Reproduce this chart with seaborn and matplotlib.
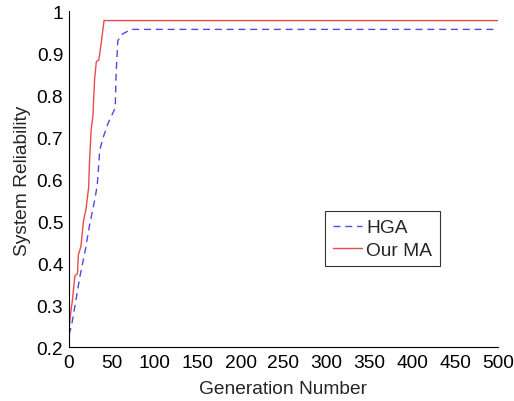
import numpy as np
import pandas as pd
import matplotlib
matplotlib.use("Agg")
import matplotlib.pyplot as plt
import seaborn as sns

# Best reliability per generation for each algorithm
hga_gen = [0, 3, 8, 13, 19, 24, 30, 33, 36, 40, 46, 54, 55, 57, 63, 73, 500]
hga_rel = [0.23, 0.25, 0.31, 0.37, 0.43, 0.49, 0.55, 0.585, 0.67, 0.70, 0.735,
           0.77, 0.85, 0.93, 0.947, 0.957, 0.957]

ma_gen = [0, 2, 4, 7, 10, 11, 14, 17, 20, 23, 24, 26, 28, 30, 32, 35, 38, 41, 500]
ma_rel = [0.24, 0.28, 0.31, 0.37, 0.375, 0.42, 0.44, 0.50, 0.53, 0.58, 0.64,
          0.72, 0.75, 0.84, 0.88, 0.885, 0.93, 0.978, 0.978]

labels = ["HGA", "Our MA"]
x_ticks = list(range(0, 501, 50))
y_ticks = [0.2, 0.3, 0.4, 0.5, 0.6, 0.7, 0.8, 0.9, 1.0]
y_tick_labels = ["0.2", "0.3", "0.4", "0.5", "0.6", "0.7", "0.8", "0.9", "1"]

df = pd.concat([
    pd.DataFrame({"gen": hga_gen, "rel": hga_rel, "alg": labels[0]}),
    pd.DataFrame({"gen": ma_gen, "rel": ma_rel, "alg": labels[1]}),
], ignore_index=True)

sns.set_style("white")
plt.rcParams["font.family"] = ["Liberation Sans", "DejaVu Sans"]

FS = 13.8

fig = plt.figure(figsize=(5.14, 4.02), dpi=100)
ax = fig.add_axes([0.134, 0.1336, 0.835, 0.8357])

palette = {labels[0]: "#4b4be8", labels[1]: "#e84c4c"}
dashes = {labels[0]: (5, 3.5), labels[1]: ""}
sns.lineplot(data=df, x="gen", y="rel", hue="alg", style="alg",
             palette=palette, dashes=dashes, estimator=None, sort=False,
             linewidth=1.0, ax=ax)

ax.set_xlim(0, 500)
ax.set_ylim(0.2, 1.0)
ax.set_xticks(x_ticks)
ax.set_xticklabels([str(t) for t in x_ticks])
ax.set_yticks(y_ticks)
ax.set_yticklabels(y_tick_labels)
ax.tick_params(direction="in", length=4, width=0.8, labelsize=FS,
               colors="black")
ax.tick_params(axis="y", pad=4)
ax.tick_params(axis="x", pad=5)

for side in ("top", "right"):
    ax.spines[side].set_visible(False)
for side in ("left", "bottom"):
    ax.spines[side].set_color("black")
    ax.spines[side].set_linewidth(0.8)

ax.set_xlabel("Generation Number", fontsize=FS, labelpad=6)
ax.set_ylabel("System Reliability", fontsize=FS, labelpad=4)

leg = ax.legend(loc="upper left", bbox_to_anchor=(0.597, 0.405),
                borderaxespad=0, fontsize=FS, frameon=True, fancybox=False,
                handlelength=1.5, handletextpad=0.25, borderpad=0.4,
                labelspacing=0.25)
leg.get_frame().set_edgecolor("black")
leg.get_frame().set_linewidth(0.8)

fig.savefig("out.png", dpi=100, facecolor="white")
